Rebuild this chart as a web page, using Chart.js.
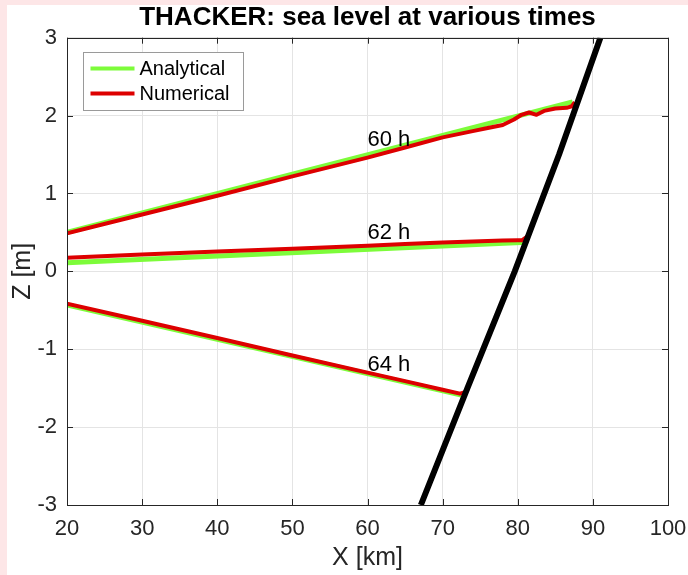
<!DOCTYPE html>
<html lang="en">
<head>
<meta charset="UTF-8" />
<title>THACKER: sea level at various times</title>
<script src="https://cdn.jsdelivr.net/npm/chart.js@4/dist/chart.umd.min.js"></script>
<style>
  html, body { margin: 0; padding: 0; }
  body { background: #fde6e7; width: 688px; height: 575px; overflow: hidden; position: relative; }
  .fig { position: absolute; left: 7px; top: 5px; width: 681px; height: 570px; background: #fff; }
</style>
</head>
<body>
<div class="fig"><canvas id="chart" width="681" height="570"></canvas></div>
<script>
// axis ticks
const X_TICKS = [20, 30, 40, 50, 60, 70, 80, 90, 100];
const Z_TICKS = [-3, -2, -1, 0, 1, 2, 3];

// 60 h
const x60Ana = [20, 87.3];
const z60Ana = [0.50, 2.175];
const x60Num = [20, 30, 40, 50, 60, 65, 70, 74, 76, 78, 79.5, 80.5, 81.5, 82.5, 83.5, 85, 86.5, 87.2, 87.6];
const z60Num = [0.49, 0.73, 0.97, 1.22, 1.46, 1.59, 1.72, 1.80, 1.84, 1.88, 1.95, 2.01, 2.04, 2.01, 2.06, 2.09, 2.10, 2.12, 2.17];

// 62 h
const x62Ana = [20, 81.2];
const z62Ana = [0.11, 0.375];
const x62Num = [20, 30, 40, 50, 60, 65, 70, 75, 78, 80, 80.6, 81.3];
const z62Num = [0.175, 0.215, 0.255, 0.29, 0.33, 0.35, 0.37, 0.385, 0.395, 0.40, 0.40, 0.45];

// 64 h
const x64Ana = [20, 72.5];
const z64Ana = [-0.43, -1.59];
const x64Num = [20, 30, 40, 50, 60, 65, 70, 72.3, 73.0, 73.4];
const z64Num = [-0.415, -0.635, -0.855, -1.08, -1.30, -1.41, -1.52, -1.57, -1.55, -1.515];

// bottom (shore) profile
const xBottom = [67.1, 73.3, 79.6, 85.5, 91.0];
const zBottom = [-3, -1.5, 0, 1.5, 3];

// curve labels (left / baseline position in data units)
const labelText = ['60 h', '62 h', '64 h'];
const labelX = [60, 60, 60];
const labelZ = [1.61, 0.41, -1.28];

const FONT = "'Liberation Sans', Arial, Helvetica, sans-serif";
const GREEN = '#7dfc3a';
const RED = '#dd0000';
const INK = '#262626';

const pts = (xs, zs) => xs.map((x, i) => ({ x: x, y: zs[i] }));

function lineSet(label, data, color, width, order) {
  return {
    label: label,
    data: data,
    borderColor: color,
    backgroundColor: color,
    borderWidth: width,
    pointRadius: 0,
    tension: 0,
    fill: false,
    borderJoinStyle: 'round',
    order: order,
  };
}

const matlabAxes = {
  id: 'matlabAxes',
  afterDatasetsDraw(chart) {
    const { ctx, chartArea: a, scales } = chart;
    const tl = 6;
    ctx.save();
    ctx.strokeStyle = INK;
    ctx.lineWidth = 1;
    ctx.beginPath();
    scales.x.ticks.forEach((t) => {
      const px = Math.round(scales.x.getPixelForValue(t.value)) + 0.5;
      ctx.moveTo(px, a.bottom); ctx.lineTo(px, a.bottom - tl);
      ctx.moveTo(px, a.top); ctx.lineTo(px, a.top + tl);
    });
    scales.y.ticks.forEach((t) => {
      const py = Math.round(scales.y.getPixelForValue(t.value)) + 0.5;
      ctx.moveTo(a.left, py); ctx.lineTo(a.left + tl, py);
      ctx.moveTo(a.right, py); ctx.lineTo(a.right - tl, py);
    });
    ctx.stroke();
    ctx.strokeRect(Math.round(a.left) + 0.5, Math.round(a.top) + 0.5,
      Math.round(a.right - a.left), Math.round(a.bottom - a.top));

    // curve labels
    ctx.fillStyle = '#000';
    ctx.font = '22px ' + FONT;
    ctx.textAlign = 'left';
    ctx.textBaseline = 'alphabetic';
    labelText.forEach((txt, i) => {
      ctx.fillText(txt, scales.x.getPixelForValue(labelX[i]), scales.y.getPixelForValue(labelZ[i]));
    });

    // legend box (top-left, inside axes)
    const bx = Math.round(a.left + 16) + 0.5;
    const by = Math.round(a.top + 14) + 0.5;
    const bw = 160, bh = 58;
    ctx.fillStyle = '#fff';
    ctx.fillRect(bx, by, bw, bh);
    ctx.strokeStyle = '#9a9a9a';
    ctx.lineWidth = 1;
    ctx.strokeRect(bx, by, bw, bh);
    ctx.font = '20px ' + FONT;
    const items = [
      { text: 'Analytical', color: GREEN, dy: 16 },
      { text: 'Numerical', color: RED, dy: 41 },
    ];
    items.forEach((it) => {
      ctx.strokeStyle = it.color;
      ctx.lineWidth = 4;
      ctx.beginPath();
      ctx.moveTo(bx + 7, by + it.dy);
      ctx.lineTo(bx + 51, by + it.dy);
      ctx.stroke();
      ctx.fillStyle = '#000';
      ctx.textBaseline = 'middle';
      ctx.fillText(it.text, bx + 56, by + it.dy + 1);
    });
    ctx.restore();
  },
};

const ctx = document.getElementById('chart').getContext('2d');
new Chart(ctx, {
  type: 'line',
  data: {
    datasets: [
      lineSet('Analytical', pts(x60Ana, z60Ana), GREEN, 5, 3),
      lineSet('Analytical', pts(x62Ana, z62Ana), GREEN, 5, 3),
      lineSet('Analytical', pts(x64Ana, z64Ana), GREEN, 5, 3),
      lineSet('Numerical', pts(x60Num, z60Num), RED, 4, 2),
      lineSet('Numerical', pts(x62Num, z62Num), RED, 4, 2),
      lineSet('Numerical', pts(x64Num, z64Num), RED, 4, 2),
      lineSet('Bottom', pts(xBottom, zBottom), '#000', 6, 1),
    ],
  },
  options: {
    responsive: false,
    animation: false,
    devicePixelRatio: 1,
    layout: { padding: { top: 0, right: 20, bottom: 0, left: 0 } },
    plugins: {
      legend: { display: false },
      tooltip: { enabled: false },
      title: {
        display: true,
        fullSize: false,
        text: 'THACKER: sea level at various times',
        color: '#000',
        font: { family: FONT, size: 26, weight: 'bold', lineHeight: 0.95 },
        padding: { top: 0, bottom: 8 },
      },
    },
    scales: {
      x: {
        type: 'linear',
        min: 20,
        max: 100,
        afterBuildTicks: (s) => { s.ticks = X_TICKS.map((v) => ({ value: v })); },
        afterFit: (s) => { s.height = 70; s.paddingLeft = 0; s.paddingRight = 0; },
        grid: { color: '#e4e4e4', drawTicks: false },
        border: { display: false },
        ticks: { color: INK, padding: 11, maxRotation: 0, font: { family: FONT, size: 22 } },
        title: {
          display: true,
          text: 'X [km]',
          color: INK,
          font: { family: FONT, size: 25 },
          padding: { top: 0, bottom: 2 },
        },
      },
      y: {
        type: 'linear',
        min: -3,
        max: 3,
        afterBuildTicks: (s) => { s.ticks = Z_TICKS.map((v) => ({ value: v })); },
        afterFit: (s) => { s.width = 60; },
        grid: { color: '#e4e4e4', drawTicks: false },
        border: { display: false },
        ticks: { color: INK, padding: 10, font: { family: FONT, size: 22 } },
        title: {
          display: true,
          text: 'Z [m]',
          color: INK,
          font: { family: FONT, size: 25 },
          padding: { top: 1, bottom: 0 },
        },
      },
    },
  },
  plugins: [matlabAxes],
});
</script>
</body>
</html>
